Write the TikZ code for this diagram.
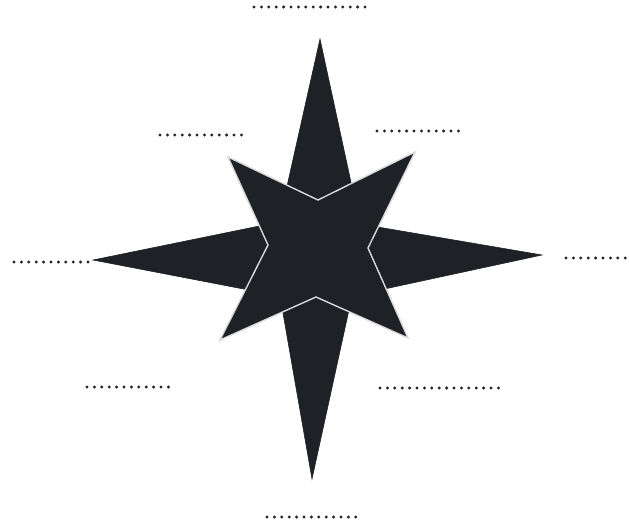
\documentclass[tikz,border=0pt]{standalone}
\usepackage{tikz}
\definecolor{starfill}{HTML}{1E2126}
\tikzset{
  blank/.style={draw=black!85, line width=3.3pt, line cap=round, dash pattern=on 0pt off 7.4pt},
  longstar/.style={fill=starfill, draw=starfill, line width=0.6pt, line join=miter},
  diagstar/.style={fill=starfill, draw=white!85!black, line width=1.4pt, line join=miter}
}
\begin{document}
\begin{tikzpicture}[x=1pt,y=-1pt]
\useasboundingbox (0,0) rectangle (629,527);
% long four-pointed star (N, E, S, W)
\path[longstar] (320,39) -- (360,224) -- (542,255) -- (352,296) -- (312,479) -- (280,296) -- (93,260) -- (279,222) -- cycle;
% diagonal four-pointed star (NE, SE, SW, NW)
\path[diagstar] (228,157) -- (318,200) -- (415,152) -- (368,248) -- (408,338) -- (316,297) -- (220,340) -- (268,245) -- cycle;
% blanks
\draw[blank] (254,7) -- (372,7);
\draw[blank] (160,135) -- (248,135);
\draw[blank] (377,131) -- (465,131);
\draw[blank] (14,262) -- (88,262);
\draw[blank] (566,258) -- (627,258);
\draw[blank] (87,387) -- (175,387);
\draw[blank] (380,388) -- (503,388);
\draw[blank] (267,517) -- (362,517);
\end{tikzpicture}
\end{document}
